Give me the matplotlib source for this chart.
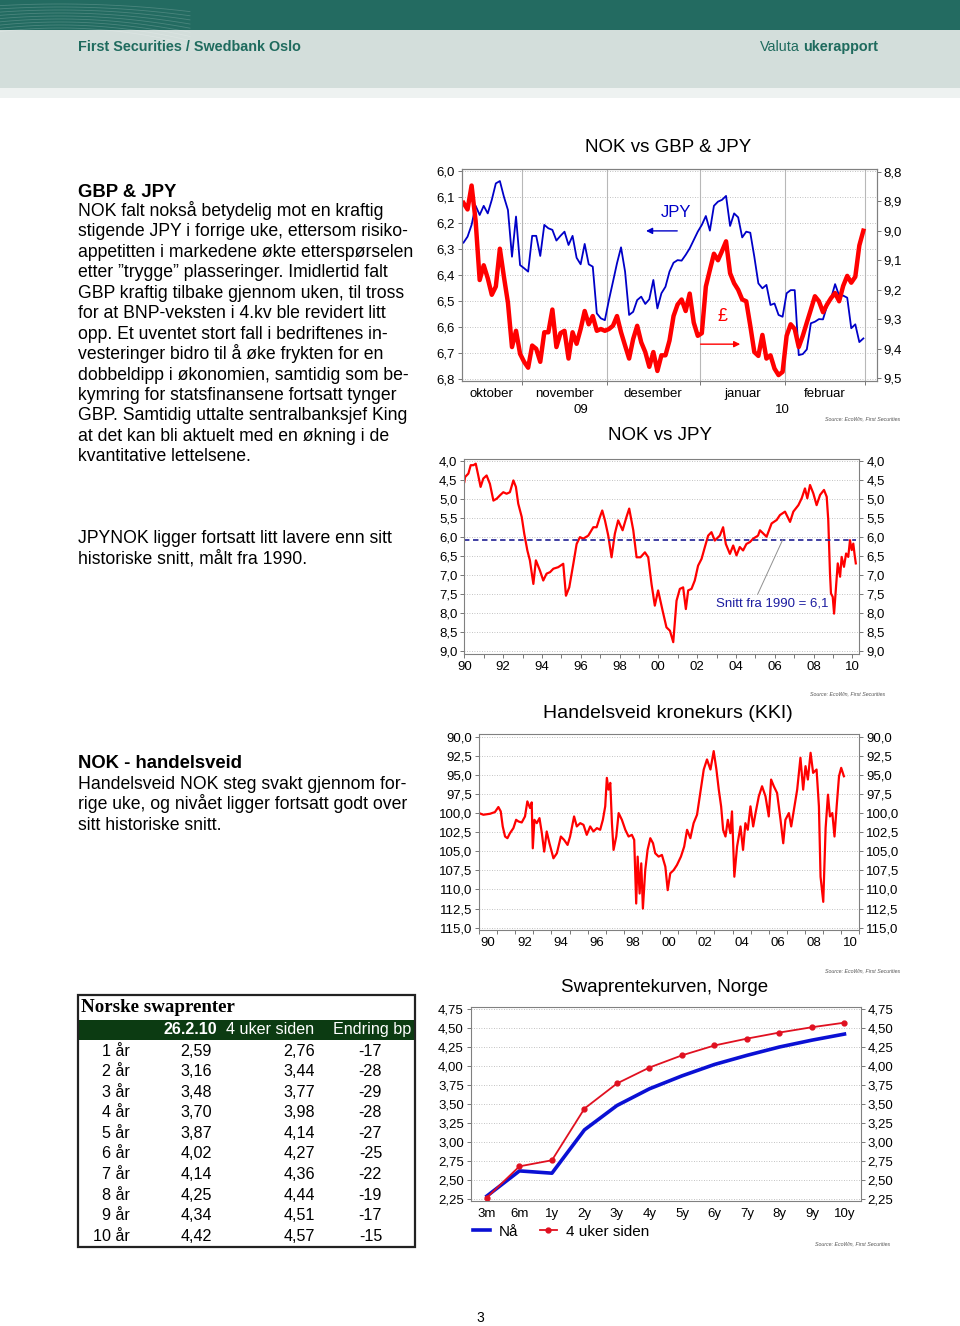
import numpy as np
import pandas as pd
import matplotlib
matplotlib.use("Agg")
import matplotlib.pyplot as plt
from matplotlib.patches import Rectangle
from matplotlib.ticker import FuncFormatter, NullFormatter

plt.rcParams["font.family"] = ["Liberation Sans", "DejaVu Sans"]

# ---- NOK vs GBP & JPY, business days from 12.10.2009
start_day = "2009-10-12"
jpy = [6.276, 6.253, 6.208, 6.135, 6.170, 6.135, 6.164, 6.112, 6.049, 6.040,
       6.100, 6.151, 6.330, 6.176, 6.362, 6.374, 6.387, 6.250, 6.250, 6.327,
       6.208, 6.221, 6.227, 6.268, 6.250, 6.234, 6.285, 6.250, 6.334, 6.359,
       6.281, 6.359, 6.368, 6.547, 6.566, 6.573, 6.496, 6.426, 6.355, 6.294,
       6.387, 6.553, 6.541, 6.496, 6.483, 6.511, 6.493, 6.419, 6.528, 6.470,
       6.445, 6.387, 6.353, 6.343, 6.345, 6.323, 6.298, 6.266, 6.234, 6.208,
       6.174, 6.230, 6.135, 6.119, 6.112, 6.097, 6.212, 6.164, 6.179, 6.256,
       6.234, 6.238, 6.330, 6.432, 6.451, 6.438, 6.515, 6.509, 6.553, 6.560,
       6.470, 6.458, 6.458, 6.707, 6.703, 6.685, 6.585, 6.579, 6.569, 6.570,
       6.519, 6.489, 6.435, 6.479, 6.479, 6.487, 6.604, 6.589, 6.657, 6.643]
gbp = [8.906, 8.928, 8.847, 8.967, 9.167, 9.117, 9.161, 9.217, 9.189, 9.061,
       9.156, 9.244, 9.394, 9.339, 9.417, 9.444, 9.464, 9.389, 9.400, 9.444,
       9.344, 9.344, 9.267, 9.394, 9.347, 9.339, 9.433, 9.344, 9.383, 9.333,
       9.272, 9.317, 9.289, 9.339, 9.333, 9.339, 9.333, 9.322, 9.289, 9.344,
       9.389, 9.433, 9.367, 9.322, 9.378, 9.411, 9.461, 9.411, 9.475, 9.422,
       9.422, 9.372, 9.289, 9.250, 9.233, 9.272, 9.213, 9.311, 9.356, 9.347,
       9.189, 9.133, 9.078, 9.100, 9.069, 9.036, 9.144, 9.178, 9.200, 9.233,
       9.239, 9.322, 9.411, 9.424, 9.353, 9.433, 9.422, 9.467, 9.489, 9.478,
       9.356, 9.317, 9.333, 9.394, 9.356, 9.311, 9.267, 9.222, 9.239, 9.276,
       9.250, 9.228, 9.211, 9.239, 9.187, 9.153, 9.176, 9.156, 9.050, 9.000]
month_names = {10: "oktober", 11: "november", 12: "desember", 1: "januar", 2: "februar"}

# ---- NOK vs JPY since 1990
jpy_long_year = [1990.00, 1990.04, 1990.21, 1990.33, 1990.47, 1990.59, 1990.72, 1990.84, 1990.98, 1991.15,
                 1991.32, 1991.50, 1991.67, 1991.84, 1992.01, 1992.18, 1992.35, 1992.53, 1992.66, 1992.78,
                 1992.96, 1993.09, 1993.25, 1993.38, 1993.56, 1993.69, 1993.90, 1994.07, 1994.24, 1994.42,
                 1994.59, 1994.84, 1995.10, 1995.24, 1995.41, 1995.62, 1995.79, 1995.96, 1996.13, 1996.39,
                 1996.65, 1996.82, 1996.99, 1997.11, 1997.25, 1997.42, 1997.59, 1997.76, 1997.93, 1998.16,
                 1998.36, 1998.50, 1998.71, 1998.88, 1999.08, 1999.31, 1999.48, 1999.65, 1999.82, 1999.99,
                 2000.22, 2000.42, 2000.60, 2000.77, 2000.94, 2001.11, 2001.28, 2001.42, 2001.54, 2001.71,
                 2001.88, 2002.05, 2002.23, 2002.40, 2002.57, 2002.74, 2002.91, 2003.17, 2003.34, 2003.48,
                 2003.69, 2003.86, 2004.03, 2004.20, 2004.37, 2004.54, 2004.72, 2004.89, 2005.14,
                 2005.24, 2005.58, 2005.84, 2006.10, 2006.27, 2006.53, 2006.79, 2006.96, 2007.22, 2007.39,
                 2007.56, 2007.68, 2007.82, 2007.99, 2008.16, 2008.34, 2008.54, 2008.68, 2008.76, 2008.85,
                 2008.90, 2008.99, 2009.06, 2009.16, 2009.25, 2009.37, 2009.45, 2009.57, 2009.68, 2009.79,
                 2009.88, 2009.97, 2010.05, 2010.12, 2010.18]
jpy_long = [4.55, 4.42, 4.33, 4.11, 4.11, 4.07, 4.38, 4.68, 4.46, 4.38,
            4.60, 5.04, 4.99, 4.90, 4.82, 4.86, 4.82, 4.51, 4.68, 5.12,
            5.47, 5.91, 6.35, 6.61, 7.23, 6.61, 6.88, 7.14, 6.96, 6.92,
            6.83, 6.79, 6.70, 7.54, 7.32, 6.70, 6.18, 6.00, 6.04, 5.96,
            5.74, 5.74, 5.47, 5.30, 5.56, 5.96, 6.53, 5.91, 5.56, 5.82,
            5.47, 5.25, 5.82, 6.53, 6.53, 6.40, 6.53, 7.23, 7.80, 7.40,
            7.93, 8.37, 8.46, 8.76, 7.67, 7.36, 7.32, 7.89, 7.40, 7.36,
            7.14, 6.75, 6.57, 6.26, 5.96, 5.87, 6.09, 5.96, 5.74, 6.18,
            6.44, 6.22, 6.48, 6.26, 6.35, 6.18, 6.13, 6.04, 5.96,
            5.82, 5.99, 5.64, 5.55, 5.42, 5.33, 5.60, 5.33, 5.16, 4.98,
            4.72, 4.98, 4.63, 4.85, 5.16, 4.89, 4.76, 4.94, 5.55, 6.96,
            7.48, 7.57, 8.01, 7.31, 6.69, 7.04, 6.52, 6.78, 6.43, 6.52,
            6.08, 6.34, 6.17, 6.47, 6.69]
jpy_avg = 6.07

# ---- Handelsveid kronekurs (KKI)
kki_year = [1990.00, 1990.24, 1990.61, 1990.88, 1991.07, 1991.20, 1991.31, 1991.44, 1991.57, 1991.71,
            1991.90, 1992.05, 1992.18, 1992.36, 1992.54, 1992.67, 1992.82, 1992.91, 1992.97, 1993.06,
            1993.19, 1993.34, 1993.47, 1993.60, 1993.74, 1993.89, 1994.11, 1994.30, 1994.52, 1994.70,
            1994.89, 1995.03, 1995.25, 1995.40, 1995.59, 1995.77, 1995.95, 1996.14, 1996.32, 1996.51,
            1996.69, 1996.84, 1996.97, 1997.06, 1997.15, 1997.25, 1997.34, 1997.43, 1997.58, 1997.71,
            1997.89, 1998.08, 1998.26, 1998.44, 1998.57, 1998.68, 1998.76, 1998.87, 1998.96, 1999.05,
            1999.18, 1999.31, 1999.46, 1999.61, 1999.73, 1999.92, 2000.10, 2000.29, 2000.42, 2000.56,
            2000.75, 2000.93, 2001.15, 2001.33, 2001.49, 2001.67, 2001.85, 2002.04, 2002.22, 2002.41,
            2002.59, 2002.78, 2002.96, 2003.11, 2003.24, 2003.37, 2003.48, 2003.61, 2003.74, 2003.88,
            2003.97, 2004.10, 2004.25, 2004.44, 2004.58, 2004.71, 2004.84, 2004.99, 2005.14, 2005.27,
            2005.45, 2005.63, 2005.82, 2006.00, 2006.13, 2006.28, 2006.46, 2006.65, 2006.80, 2006.92,
            2007.11, 2007.24, 2007.39, 2007.57, 2007.75, 2007.90, 2008.03, 2008.16, 2008.31, 2008.45,
            2008.64, 2008.77, 2008.86, 2009.01, 2009.14, 2009.27, 2009.38, 2009.51, 2009.63, 2009.75,
            2009.88, 2010.00, 2010.15]
kki = [100.00, 100.22, 100.09, 99.87, 99.21, 99.78, 101.75, 103.07, 103.29, 102.63,
       101.97, 100.88, 101.10, 101.23, 100.44, 98.47, 99.34, 98.60, 104.61, 100.88,
       101.32, 100.66, 102.63, 105.04, 102.41, 103.95, 105.92, 105.26, 103.07, 103.51,
       104.17, 103.07, 100.44, 101.75, 101.32, 101.54, 102.85, 101.75, 102.41, 101.97,
       102.19, 100.88, 99.12, 95.39, 96.93, 96.05, 101.32, 104.82, 103.07, 100.00,
       100.88, 102.19, 103.07, 102.85, 103.51, 111.84, 105.70, 110.53, 106.58, 112.50,
       107.46, 104.82, 103.29, 103.95, 105.26, 105.70, 105.48, 107.02, 110.09, 107.89,
       107.46, 106.80, 105.70, 104.39, 102.19, 103.29, 101.32, 100.22, 97.37, 94.30,
       92.98, 94.30, 91.89, 94.30, 96.93, 99.12, 102.19, 103.07, 100.88, 102.63,
       99.78, 108.33, 104.39, 101.75, 104.82, 101.32, 102.19, 99.12, 101.75, 100.00,
       97.81, 96.49, 97.81, 100.44, 95.61, 96.49, 97.37, 100.88, 103.95, 100.88,
       100.00, 101.75, 99.56, 96.93, 92.76, 96.93, 93.86, 95.61, 92.11, 94.74,
       94.30, 99.12, 108.33, 111.62, 101.97, 97.59, 100.44, 100.00, 103.07, 99.12,
       95.18, 94.08, 95.18]

# ---- Swap curve
tenors = ["3m", "6m", "1y", "2y", "3y", "4y", "5y", "6y", "7y", "8y", "9y", "10y"]
swap_now = [2.29, 2.62, 2.59, 3.16, 3.48, 3.70, 3.87, 4.02, 4.14, 4.25, 4.34, 4.42]
swap_4w = [2.27, 2.68, 2.76, 3.44, 3.77, 3.98, 4.14, 4.27, 4.36, 4.44, 4.51, 4.57]

# ---- Table
table_tenor = ["1 år", "2 år", "3 år", "4 år", "5 år", "6 år", "7 år", "8 år", "9 år", "10 år"]
table_now = [2.59, 3.16, 3.48, 3.70, 3.87, 4.02, 4.14, 4.25, 4.34, 4.42]
table_4w = [2.76, 3.44, 3.77, 3.98, 4.14, 4.27, 4.36, 4.44, 4.51, 4.57]
table_chg = [-17, -28, -29, -28, -27, -25, -22, -19, -17, -15]

gbp_text = ["NOK falt nokså betydelig mot en kraftig",
            "stigende JPY i forrige uke, ettersom risiko-",
            "appetitten i markedene økte etterspørselen",
            "etter ”trygge” plasseringer. Imidlertid falt",
            "GBP kraftig tilbake gjennom uken, til tross",
            "for at BNP-veksten i 4.kv ble revidert litt",
            "opp. Et uventet stort fall i bedriftenes in-",
            "vesteringer bidro til å øke frykten for en",
            "dobbeldipp i økonomien, samtidig som be-",
            "kymring for statsfinansene fortsatt tynger",
            "GBP. Samtidig uttalte sentralbanksjef King",
            "at det kan bli aktuelt med en økning i de",
            "kvantitative lettelsene."]
jpy_text = ["JPYNOK ligger fortsatt litt lavere enn sitt",
            "historiske snitt, målt fra 1990."]
kki_text = ["Handelsveid NOK steg svakt gjennom for-",
            "rige uke, og nivået ligger fortsatt godt over",
            "sitt historiske snitt."]

W, H = 960, 1326
RED = "#ff0000"
BLUE = "#0000c8"
TEAL = "#1f6b5e"
TICK = 9.5


def box(x0, y0, x1, y1):
    return [x0 / W, 1 - y1 / H, (x1 - x0) / W, (y1 - y0) / H]


def comma(fmt):
    return FuncFormatter(lambda v, _: format(v, fmt).replace(".", ","))


def style(ax):
    for s in ax.spines.values():
        s.set_color("#808080")
        s.set_linewidth(0.8)
    ax.tick_params(which="both", colors="#606060", labelcolor="black", labelsize=TICK,
                   length=3, width=0.6, direction="out", pad=2)
    ax.tick_params(top=False)


fig = plt.figure(figsize=(W / 100, H / 100), dpi=100)

# page layer (header, text, table)
page = fig.add_axes([0, 0, 1, 1])
page.set_xlim(0, W)
page.set_ylim(H, 0)
page.axis("off")

page.add_patch(Rectangle((0, 0), W, 30, color="#236b61", lw=0))
page.add_patch(Rectangle((0, 30), W, 58, color="#d3dedb", lw=0))
page.add_patch(Rectangle((0, 88), W, 10, color="#eef2f1", lw=0))
# faint swirl in the top band
sx = np.linspace(0, 190, 60)
for k in range(9):
    page.plot(sx, 4 + 3 * k + 0.00045 * (sx - 60) ** 2 * (1 + 0.15 * k), color="white",
              lw=0.6, alpha=0.18, clip_on=True)
page.set_xlim(0, W)
page.set_ylim(H, 0)

page.text(78, 47, "First Securities / Swedbank Oslo", fontsize=10.4, fontweight="bold",
          color=TEAL, va="center")
t_uke = page.text(878, 47, "ukerapport", fontsize=10.4, fontweight="bold", color=TEAL,
                  ha="right", va="center")
fig.canvas.draw()
bb = t_uke.get_window_extent(fig.canvas.get_renderer())
page.text(bb.x0 - 3, 47, "Valuta", fontsize=10.4, color=TEAL, ha="right", va="center")

page.text(78, 197, "GBP & JPY", fontsize=13.3, fontweight="bold")
for i, line in enumerate(gbp_text):
    page.text(78, 216 + 20.45 * i, line, fontsize=12.7)
for i, line in enumerate(jpy_text):
    page.text(78, 543 + 20.45 * i, line, fontsize=12.7)
page.text(78, 768, "NOK - handelsveid", fontsize=13.3, fontweight="bold")
for i, line in enumerate(kki_text):
    page.text(78, 789 + 20.45 * i, line, fontsize=12.7)

# table
TF = 11.6
page.add_patch(Rectangle((77.5, 995), 337.5, 251.5, fill=False, ec="#222222", lw=1.6, zorder=3))
page.add_patch(Rectangle((77.5, 1020), 337.5, 19.5, color="#0c3b12", lw=0))
page.text(81, 1008, "Norske swaprenter", fontsize=13.6, fontweight="bold",
          family=["Liberation Serif", "DejaVu Serif"], va="center")
page.text(217, 1029.5, "26.2.10", fontsize=TF, fontweight="bold", color="white", ha="right", va="center")
page.text(270, 1029.5, "4 uker siden", fontsize=TF, color="white", ha="center", va="center")
page.text(372, 1029.5, "Endring bp", fontsize=TF, color="white", ha="center", va="center")
for i in range(len(table_tenor)):
    y = 1051 + 20.6 * i
    page.text(130, y, table_tenor[i], fontsize=TF, ha="right", va="center")
    page.text(212, y, f"{table_now[i]:.2f}".replace(".", ","), fontsize=TF, ha="right", va="center")
    page.text(315, y, f"{table_4w[i]:.2f}".replace(".", ","), fontsize=TF, ha="right", va="center")
    page.text(382, y, str(table_chg[i]), fontsize=TF, ha="right", va="center")

page.text(480, 1318, "3", fontsize=10, ha="center", va="center")

src = "Source: EcoWin, First Securities"
for sx_, sy_ in [(900, 419), (885, 694), (900, 971), (890, 1244)]:
    page.text(sx_, sy_, src, fontsize=3.8, style="italic", color="#555555", ha="right", va="center")

# ---- chart 1: NOK vs GBP & JPY
page.text(668, 148, "NOK vs GBP & JPY", fontsize=13.5, ha="center", va="center")
ax1 = fig.add_axes(box(461.7, 169.3, 876.7, 380.7))
style(ax1)
dates = pd.bdate_range(start_day, periods=len(jpy))
x = np.arange(len(jpy))
ax1.plot(x, jpy, color=BLUE, lw=1.3, zorder=3)
ax1.set_xlim(-0.45, 102.3)
ax1.set_ylim(6.805, 5.995)
ax1.set_yticks(np.round(np.arange(6.0, 6.81, 0.1), 1))
ax1.yaxis.set_major_formatter(comma(".1f"))
ax1.yaxis.grid(True, ls=(0, (1, 2)), color="#b0b0b0", lw=0.6)
months = dates.month
starts = [i for i in range(1, len(dates)) if months[i] != months[i - 1]]
bounds = [s - 0.5 for s in starts] + [len(dates) - 0.5]
for b in bounds:
    ax1.axvline(b, color="#b8b8b8", lw=0.8, zorder=1)
ax1.set_xticks(bounds)
ax1.xaxis.set_major_formatter(NullFormatter())
edges = [0] + starts + [len(dates)]
centers = [(edges[k] + edges[k + 1] - 1) / 2 for k in range(len(edges) - 1)]
ax1.set_xticks(centers, minor=True)
ax1.set_xticklabels([month_names[months[edges[k]]] for k in range(len(edges) - 1)], minor=True)
ax1.tick_params(axis="x", which="minor", length=0, pad=5)
ax1.tick_params(axis="y", right=False)
years = dates.year
for yr in sorted(set(years)):
    idx = np.where(years == yr)[0]
    ax1.text((idx[0] + idx[-1]) / 2, -0.139, str(yr)[2:], transform=ax1.get_xaxis_transform(),
             ha="center", va="center", fontsize=TICK)
ax1.text(52.6, 6.162, "JPY", color=BLUE, fontsize=12, ha="center", va="center")
ax1.annotate("", xy=(44.5, 6.231), xytext=(53.6, 6.231),
             arrowprops=dict(arrowstyle="-|>", color=BLUE, lw=1, mutation_scale=9))
ax1.text(64.2, 6.56, "£", color=RED, fontsize=13, ha="center", va="center")
ax1.annotate("", xy=(69.2, 6.665), xytext=(58.0, 6.665),
             arrowprops=dict(arrowstyle="-|>", color=RED, lw=1, mutation_scale=9))
ax1r = ax1.twinx()
style(ax1r)
ax1r.plot(x, gbp, color=RED, lw=3.2, solid_joinstyle="round")
ax1r.set_ylim(9.508, 8.792)
ax1r.set_yticks(np.round(np.arange(8.8, 9.51, 0.1), 1))
ax1r.yaxis.set_major_formatter(comma(".1f"))

# ---- chart 2: NOK vs JPY
page.text(660, 435, "NOK vs JPY", fontsize=13.5, ha="center", va="center")
ax2 = fig.add_axes(box(464.3, 459, 859.3, 654.3))
style(ax2)
ax2.plot(jpy_long_year, jpy_long, color=RED, lw=1.6)
ax2.hlines(jpy_avg, jpy_long_year[0], jpy_long_year[-1], color="#30309c", ls=(0, (3, 2)), lw=1.3)
ax2.set_xlim(1990, 2010.36)
ax2.set_ylim(9.079, 3.947)
ax2.set_yticks(np.arange(4.0, 9.01, 0.5))
ax2.yaxis.set_major_formatter(comma(".1f"))
ax2.yaxis.grid(True, ls=(0, (1, 2)), color="#b0b0b0", lw=0.6)
ax2.set_xticks(np.arange(1990, 2011, 2))
ax2.set_xticklabels([f"{y % 100:02d}" for y in range(1990, 2011, 2)])
ax2.set_xticks(np.arange(1990, 2011, 1), minor=True)
ax2.tick_params(labelright=True, right=True)
ax2.annotate("Snitt fra 1990 = 6,1", xy=(2006.41, jpy_avg), xytext=(2005.86, 7.74),
             color="#1c1ca0", fontsize=9.5, ha="center", va="center",
             arrowprops=dict(arrowstyle="-", color="#909090", lw=0.7, relpos=(0.36, 1.0),
                             shrinkA=0, shrinkB=0))

# ---- chart 3: KKI
page.text(668, 713, "Handelsveid kronekurs (KKI)", fontsize=14, ha="center", va="center")
ax3 = fig.add_axes(box(479, 734, 859.3, 929.5))
style(ax3)
ax3.plot(kki_year, kki, color=RED, lw=1.6)
ax3.set_xlim(1990, 2011)
ax3.set_ylim(115.24, 89.65)
ax3.set_yticks(np.arange(90, 115.1, 2.5))
ax3.yaxis.set_major_formatter(comma(".1f"))
ax3.yaxis.grid(True, ls=(0, (1, 2)), color="#b0b0b0", lw=0.6)
ax3.set_xticks(np.arange(1990, 2012, 1))
ax3.xaxis.set_major_formatter(NullFormatter())
ax3.set_xticks(np.arange(1990, 2011, 2) + 0.5, minor=True)
ax3.set_xticklabels([f"{y % 100:02d}" for y in range(1990, 2011, 2)], minor=True)
ax3.tick_params(axis="x", which="minor", length=0, pad=5.5)
ax3.tick_params(axis="y", labelright=True, right=True)

# ---- chart 4: swap curve
page.text(665, 987, "Swaprentekurven, Norge", fontsize=13.5, ha="center", va="center")
ax4 = fig.add_axes(box(470.7, 1006.7, 860.7, 1200.7))
style(ax4)
xi = np.arange(len(tenors))
ax4.plot(xi, swap_now, color="#0a10d4", lw=2.6, label="Nå")
ax4.plot(xi, swap_4w, color="#e01020", lw=1.3, marker="o", ms=3.5, label="4 uker siden")
ax4.set_xlim(-0.5, 11.5)
ax4.set_ylim(2.228, 4.78)
ax4.set_yticks(np.arange(2.25, 4.76, 0.25))
ax4.yaxis.set_major_formatter(comma(".2f"))
ax4.yaxis.grid(True, ls=(0, (1, 2)), color="#b0b0b0", lw=0.6)
ax4.set_xticks(xi)
ax4.set_xticklabels(tenors)
ax4.tick_params(axis="x", length=0, pad=5.5)
ax4.tick_params(axis="y", labelright=True, right=True)
ax4.legend(loc="center left", bbox_to_anchor=(473 / W, 1 - 1231.7 / H), bbox_transform=fig.transFigure,
           ncol=2, frameon=False, fontsize=11, handlelength=1.1, handletextpad=0.6,
           columnspacing=1.4, borderpad=0, borderaxespad=0)

fig.savefig("out.png", dpi=100)
